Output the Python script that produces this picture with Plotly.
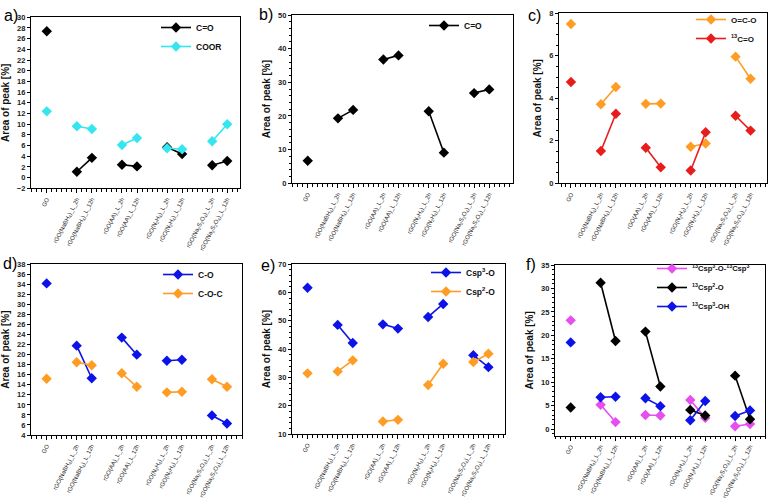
import plotly.graph_objects as go

# ---------------- data ----------------
categories = [
    "GO",
    "rGO(NaBH<sub>4</sub>)_L_2h", "rGO(NaBH<sub>4</sub>)_L_12h",
    "rGO(AA)_L_2h", "rGO(AA)_L_12h",
    "rGO(N<sub>2</sub>H<sub>4</sub>)_L_2h", "rGO(N<sub>2</sub>H<sub>4</sub>)_L_12h",
    "rGO(Na<sub>2</sub>S<sub>2</sub>O<sub>4</sub>)_L_2h", "rGO(Na<sub>2</sub>S<sub>2</sub>O<sub>4</sub>)_L_12h",
]

a_CO = [27.4, 1.1, 3.7, 2.4, 2.1, 5.7, 4.4, 2.3, 3.1]
a_COOR = [12.4, 9.6, 9.1, 6.1, 7.4, 5.5, 5.3, 6.8, 10.0]

b_CO = [6.7, 19.3, 21.8, 36.8, 38.0, 21.4, 9.1, 26.8, 27.9]

c_OCO = [7.5, 3.72, 4.53, 3.74, 3.75, 1.72, 1.87, 5.96, 4.92]
c_13CO = [4.77, 1.52, 3.27, 1.67, 0.75, 0.60, 2.40, 3.18, 2.48]

d_CO = [34.2, 21.8, 15.3, 23.4, 20.0, 18.8, 19.0, 7.9, 6.3]
d_COC = [15.2, 18.5, 17.9, 16.3, 13.6, 12.5, 12.6, 15.1, 13.6]

e_sp3O = [61.6, 48.5, 42.1, 48.7, 47.2, 51.3, 55.9, 37.8, 33.6]
e_sp2O = [31.4, 32.1, 36.0, 14.4, 15.0, 27.3, 34.8, 35.4, 38.3]

f_sp3Osp3 = [23.2, 5.2, 1.5, 3.0, 2.9, 6.2, 2.4, 0.6, 1.1]
f_sp2O = [4.6, 31.2, 18.8, 20.8, 9.1, 4.1, 2.9, 11.4, 2.1]
f_sp3OH = [18.5, 6.8, 6.9, 6.6, 4.9, 1.9, 6.0, 2.8, 4.0]

# ---------------- helpers ----------------
W, H = 771, 498


def cat_pos(i):
    # GO alone, then pairs (2h, 12h) separated by an empty slot
    if i == 0:
        return 0
    g = (i - 1) // 2 + 1
    m = (i - 1) % 2
    return 3 * g - 1 + m


positions = [cat_pos(i) for i in range(len(categories))]


def gapped(vals):
    xs, ys = [], []
    for i, v in enumerate(vals):
        if i > 0 and i % 2 == 1:
            xs.append(None)
            ys.append(None)
        xs.append(positions[i])
        ys.append(v)
    return xs, ys


def dx(l, r):
    return [l / W, r / W]


def dy(top, bottom):
    return [1 - bottom / H, 1 - top / H]


FONT = "Arial, Liberation Sans, sans-serif"
BLACK = "#000000"
CYAN = "#35e6ee"
ORANGE = "#ff9c24"
RED = "#e81c1c"
BLUE = "#0c12e8"
MAGENTA = "#e64ef0"

panels = [
    dict(k="", xd=dx(31, 240), yd=dy(17.3, 188.3), xr=[-1.05, 12.85], yr=[-2, 30], dt=2, mn=None,
         series=[("C=O", a_CO, BLACK), ("COOR", a_COOR, CYAN)], leg=(198, 13, 8.5), letter=("a)", 2, 15)),
    dict(k="2", xd=dx(292, 513), yd=dy(15, 183.3), xr=[-1.04, 13.57], yr=[0, 50], dt=10, mn=2,
         series=[("C=O", b_CO, BLACK)], leg=(466, 11, 8.5), letter=("b)", 257, 14)),
    dict(k="3", xd=dx(559, 767), yd=dy(13.3, 183.3), xr=[-0.8, 13.1], yr=[0, 8], dt=2, mn=0.5,
         series=[("O=C-O", c_OCO, ORANGE), ("<sup>13</sup>C=O", c_13CO, RED)], leg=(733, 5, 8),
         letter=("c)", 526, 15)),
    dict(k="4", xd=dx(31, 242), yd=dy(264.3, 435), xr=[-1.04, 13.0], yr=[4, 38], dt=2, mn=None,
         series=[("C-O", d_CO, BLUE), ("C-O-C", d_COC, ORANGE)], leg=(200, 260, 8.5), letter=("d)", 1, 263)),
    dict(k="5", xd=dx(292, 505), yd=dy(264, 434), xr=[-1.03, 13.1], yr=[10, 70], dt=10, mn=2,
         series=[("Csp<sup>3</sup>-O", e_sp3O, BLUE), ("Csp<sup>2</sup>-O", e_sp2O, ORANGE)],
         leg=(468, 258, 8.5), letter=("e)", 259, 265)),
    dict(k="6", xd=dx(555, 765), yd=dy(265, 435.7), xr=[-1.05, 13.0], yr=[-1.4, 35], dt=5, mn=1,
         series=[("<sup>13</sup>Csp<sup>3</sup>-O-<sup>13</sup>Csp<sup>3</sup>", f_sp3Osp3, MAGENTA),
                 ("<sup>13</sup>Csp<sup>2</sup>-O", f_sp2O, BLACK),
                 ("<sup>13</sup>Csp<sup>3</sup>-OH", f_sp3OH, BLUE)],
         leg=(694, 254, 7.6), letter=("f)", 524, 264)),
]

fig = go.Figure()
layout = dict(
    width=W, height=H, margin=dict(l=0, r=0, t=0, b=0, autoexpand=False),
    paper_bgcolor="white", plot_bgcolor="white",
    font=dict(family=FONT, color="#111"),
    annotations=[],
)

for p in panels:
    k = p["k"]
    legname = "legend" + k
    for name, vals, col in p["series"]:
        xs, ys = gapped(vals)
        fig.add_trace(go.Scatter(
            x=xs, y=ys, name=name, mode="lines+markers",
            line=dict(color=col, width=1.6),
            marker=dict(symbol="diamond", size=8, color=col),
            connectgaps=False,
            xaxis="x" + k, yaxis="y" + k, legend=legname,
        ))
    xa = dict(
        domain=p["xd"], range=p["xr"], anchor="y" + k,
        tickmode="array", tickvals=positions, ticktext=categories,
        tickangle=-63, tickfont=dict(family=FONT, size=6, color="#222"),
        ticks="outside", ticklen=4, tickwidth=1, tickcolor="black",
        minor=dict(tickmode="linear", tick0=0, dtick=1 / 3, ticks="outside", ticklen=2.5,
                   tickcolor="black", tickwidth=1),
        showline=True, linecolor="black", linewidth=1.2, mirror=True,
        showgrid=False, zeroline=False, fixedrange=True, automargin=False,
    )
    ya = dict(
        domain=p["yd"], range=p["yr"], anchor="x" + k,
        tickmode="linear", tick0=0, dtick=p["dt"],
        tickfont=dict(family=FONT, size=7.5, color="#222", weight="bold"),
        ticks="outside", ticklen=3, tickwidth=1, tickcolor="black",
        showline=True, linecolor="black", linewidth=1.2, mirror=True,
        showgrid=False, zeroline=False, fixedrange=True, automargin=False,
        title=dict(text="Area of peak [%]", font=dict(family=FONT, size=10, color="#111", weight="bold"),
                   standoff=5),
    )
    if p["mn"]:
        ya["minor"] = dict(dtick=p["mn"], ticks="outside", ticklen=2, tickcolor="black", tickwidth=1)
    layout["xaxis" + k] = xa
    layout["yaxis" + k] = ya
    tx, ty, fs = p["leg"]
    layout[legname] = dict(
        x=(tx - 42) / W, y=1 - ty / H, xanchor="left", yanchor="top",
        bgcolor="rgba(0,0,0,0)", borderwidth=0,
        font=dict(family=FONT, size=fs, color="#111", weight="bold"),
        tracegroupgap=0, itemwidth=30,
    )
    letter, lx, ly = p["letter"]
    layout["annotations"].append(dict(
        text=letter, x=lx / W, y=1 - ly / H, xref="paper", yref="paper",
        xanchor="left", yanchor="middle", showarrow=False,
        font=dict(family=FONT, size=16, color="black"),
    ))

fig.update_layout(**layout)
fig.write_html(
    "out.html",
    config={"displayModeBar": False},
    post_script="document.body.style.margin='0px';document.body.style.overflow='hidden';",
)
